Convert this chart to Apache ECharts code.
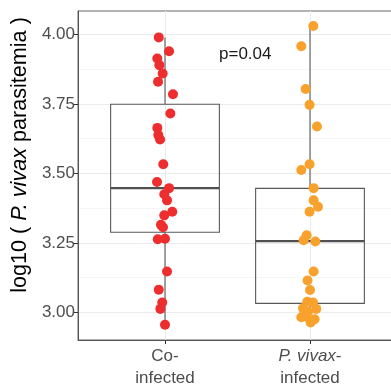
<!DOCTYPE html>
<html>
<head>
<meta charset="utf-8">
<script src="https://cdn.jsdelivr.net/npm/echarts@6/dist/echarts.min.js"></script>
<style>
  html, body { margin: 0; padding: 0; background: #fff; }
  #chart { width: 391px; height: 387px; }
</style>
</head>
<body>
<div id="chart"></div>
<script>
// groups on the x axis (1 = Co-infected, 2 = P. vivax-infected)
const groups = ['Co-infected', 'P. vivax-infected'];

// log10 parasitemia
const coValues = [3.99, 3.94, 3.914, 3.89, 3.86, 3.83, 3.785, 3.716, 3.664, 3.638, 3.622, 3.533,
  3.469, 3.447, 3.425, 3.403, 3.362, 3.349, 3.315, 3.306, 3.263, 3.265, 3.147, 3.081, 3.035, 3.012, 2.955];
const coJitter = [-0.043, 0.028, -0.053, -0.039, -0.016, -0.048, 0.055, 0.037, -0.053, -0.046, -0.034, -0.012,
  -0.055, 0.028, -0.005, 0.014, 0.05, -0.005, -0.028, -0.014, -0.05, 0.0, 0.014, -0.043, -0.019, -0.032, 0.0];

const pvValues = [4.031, 3.958, 3.804, 3.747, 3.669, 3.533, 3.512, 3.447, 3.403, 3.38, 3.362, 3.277,
  3.259, 3.255, 3.147, 3.114, 3.08, 3.038, 3.035, 3.014, 3.012, 3.002, 2.984, 2.982, 2.975, 2.963];
const pvJitter = [0.023, -0.06, -0.03, -0.003, 0.048, -0.003, -0.06, 0.025, 0.025, 0.055, -0.003, -0.023,
  -0.044, 0.037, 0.025, -0.017, 0.0, -0.019, 0.021, -0.048, 0.043, -0.014, -0.026, -0.06, 0.032, 0.004];

// box stats: [lower whisker, Q1, median, Q3, upper whisker]
const boxStats = [
  [2.955, 3.288, 3.447, 3.749, 3.99],
  [2.963, 3.032, 3.256, 3.446, 4.031]
];

const yTicks = [3.0, 3.25, 3.5, 3.75, 4.0];
const yMinorTicks = [3.125, 3.375, 3.625, 3.875];
const xTicks = [1, 2];
const pText = 'p=0.04';

const colors = ['#ee2e2e', '#f8a22d'];
const font = '"Liberation Sans", Arial, Helvetica, sans-serif';
const lineCol = '#595959';

function renderBox(params, api) {
  const x = api.value(0);
  const lo = api.value(1), q1 = api.value(2), med = api.value(3), q3 = api.value(4), hi = api.value(5);
  const half = 0.375;
  const tl = api.coord([x - half, q3]);
  const br = api.coord([x + half, q1]);
  const c = v => api.coord([x, v]);
  const mL = api.coord([x - half, med]), mR = api.coord([x + half, med]);
  return {
    type: 'group',
    children: [
      { type: 'line', shape: { x1: c(hi)[0], y1: c(hi)[1], x2: c(q3)[0], y2: c(q3)[1] },
        style: { stroke: lineCol, lineWidth: 1.1 } },
      { type: 'line', shape: { x1: c(q1)[0], y1: c(q1)[1], x2: c(lo)[0], y2: c(lo)[1] },
        style: { stroke: lineCol, lineWidth: 1.1 } },
      { type: 'rect', shape: { x: tl[0], y: tl[1], width: br[0] - tl[0], height: br[1] - tl[1] },
        style: { fill: 'none', stroke: lineCol, lineWidth: 1.1 } },
      { type: 'line', shape: { x1: mL[0], y1: mL[1], x2: mR[0], y2: mR[1] },
        style: { stroke: '#505050', lineWidth: 2.2 } }
    ]
  };
}

const chart = echarts.init(document.getElementById('chart'));
const option = {
  animation: false,
  textStyle: { fontFamily: font },
  grid: {
    left: 78, top: 11, width: 319, height: 329,
    outerBoundsMode: 'none', containLabel: false,
    show: true, borderColor: '#666', borderWidth: 1, backgroundColor: 'transparent'
  },
  xAxis: {
    type: 'value', min: 0.4, max: 2.6,
    axisLine: { show: true, lineStyle: { color: '#555', width: 1 } },
    axisTick: { show: true, length: 4, customValues: xTicks, lineStyle: { color: '#333' } },
    axisLabel: {
      customValues: xTicks, margin: 5, color: '#4d4d4d', fontSize: 17, lineHeight: 22,
      fontFamily: font,
      formatter: v => v === 1 ? 'Co-\ninfected' : '{i|P. vivax}-\ninfected',
      rich: { i: { fontStyle: 'italic', fontSize: 17, lineHeight: 22, color: '#4d4d4d', fontFamily: font } }
    },
    splitLine: { show: true, lineStyle: { color: '#ebebeb', width: 1 } }
  },
  yAxis: [{
    type: 'value', min: 2.9, max: 4.085,
    name: 'log10 ( {i|P. vivax} parasitemia )',
    nameLocation: 'middle', nameGap: 45,
    nameTextStyle: {
      fontSize: 21.6, color: '#000', fontFamily: font, padding: [0, 0, 0, 41],
      rich: { i: { fontStyle: 'italic', fontSize: 21.6, color: '#000', fontFamily: font } }
    },
    axisLine: { show: true, lineStyle: { color: '#555', width: 1 } },
    axisTick: { show: true, length: 4, customValues: yTicks, lineStyle: { color: '#333' } },
    axisLabel: {
      customValues: yTicks, margin: 3, color: '#4d4d4d', fontSize: 17, fontFamily: font,
      formatter: v => v.toFixed(2)
    },
    splitLine: { show: true, lineStyle: { color: '#ebebeb', width: 1 } }
  }, {
    type: 'value', min: 2.9, max: 4.085, position: 'left',
    axisLine: { show: false },
    axisTick: { show: false, customValues: yMinorTicks },
    axisLabel: { show: false, customValues: yMinorTicks },
    splitLine: { show: true, lineStyle: { color: '#f5f5f5', width: 1 } }
  }],
  series: [
    {
      type: 'custom', name: 'box', z: 1,
      renderItem: renderBox,
      encode: { x: 0, y: [1, 2, 3, 4, 5] },
      data: boxStats.map((s, i) => [xTicks[i]].concat(s))
    },
    {
      type: 'scatter', name: groups[0], z: 3, symbolSize: 10,
      itemStyle: { color: colors[0], opacity: 1 },
      data: coValues.map((v, i) => [xTicks[0] + coJitter[i], v])
    },
    {
      type: 'scatter', name: groups[1], z: 3, symbolSize: 10,
      itemStyle: { color: colors[1], opacity: 1 },
      data: pvValues.map((v, i) => [xTicks[1] + pvJitter[i], v])
    }
  ],
  graphic: [{
    type: 'text', left: 219, top: 46,
    style: { text: pText, fontSize: 17, fill: '#1a1a1a', fontFamily: font }
  }]
};
chart.setOption(option);
</script>
</body>
</html>
